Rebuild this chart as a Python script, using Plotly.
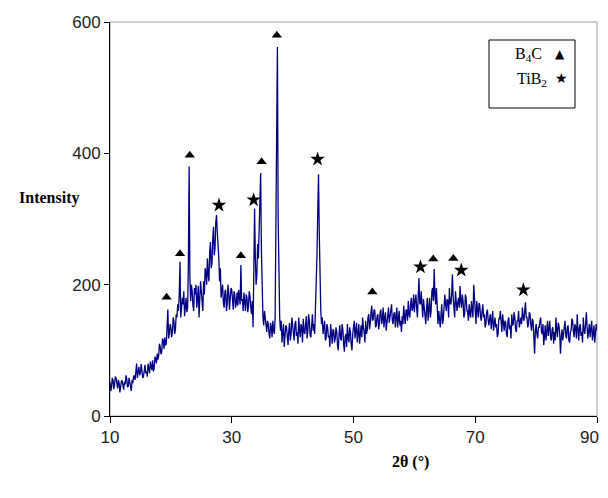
import numpy as np
import plotly.graph_objects as go

# ---- data, 2-theta scan 10..90 deg ----
two_theta_start = 10.0
two_theta_end = 90.0
# one row per degree (8 readings per degree)
intensity = [
    52, 38, 44, 58, 55, 41, 47, 60,        # 10
    58, 45, 42, 55, 50, 36, 46, 53,        # 11
    54, 47, 40, 52, 48, 62, 57, 44,        # 12
    45, 58, 52, 42, 38, 55, 50, 60,        # 13
    62, 55, 70, 80, 58, 66, 75, 62,        # 14
    66, 79, 72, 58, 60, 74, 78, 65,        # 15
    68, 60, 80, 72, 65, 83, 74, 70,        # 16
    85, 68, 72, 90, 88, 80, 95, 86,        # 17
    92, 110, 105, 94, 98, 118, 115, 102,   # 18
    120, 108, 110, 128, 162, 118, 125, 140,  # 19
    135, 120, 128, 150, 145, 125, 132, 155,  # 20
    150, 170, 160, 185, 235, 150, 165, 180,  # 21
    170, 190, 152, 165, 180, 158, 165, 230,  # 22
    380, 210, 175, 200, 190, 168, 160, 195,  # 23
    185, 200, 165, 178, 198, 150, 172, 205,  # 24
    190, 172, 160, 205, 185, 225, 220, 200,  # 25
    240, 215, 205, 250, 265, 225, 232, 270,  # 26
    288, 245, 255, 295, 306, 280, 265, 240,  # 27
    205, 225, 180, 195, 200, 172, 165, 190,  # 28
    192, 160, 170, 200, 188, 162, 175, 195,  # 29
    192, 178, 162, 190, 185, 165, 172, 188,  # 30
    168, 192, 182, 170, 230, 175, 178, 160,  # 31
    188, 172, 160, 185, 180, 158, 168, 190,  # 32
    182, 165, 155, 175, 135, 220, 316, 240,  # 33
    200, 215, 262, 240, 275, 320, 370, 250,  # 34
    160, 150, 138, 160, 150, 135, 128, 145,  # 35
    140, 125, 118, 142, 135, 120, 145, 130,  # 36
    125, 150, 305, 460, 562, 300, 175, 150,  # 37
    130, 145, 112, 128, 140, 105, 120, 138,  # 38
    135, 118, 108, 130, 142, 115, 125, 150,  # 39
    138, 120, 115, 140, 145, 122, 128, 110,  # 40
    150, 132, 120, 140, 135, 112, 148, 128,  # 41
    125, 140, 152, 118, 130, 155, 145, 122,  # 42
    120, 138, 155, 130, 140, 125, 160, 185,  # 43
    245, 310, 368, 280, 200, 160, 140, 150,  # 44
    125, 138, 145, 115, 118, 140, 135, 120,  # 45
    122, 105, 140, 125, 110, 132, 130, 112,  # 46
    118, 135, 128, 108, 100, 125, 138, 118,  # 47
    115, 140, 132, 110, 98, 120, 125, 105,   # 48
    140, 118, 112, 135, 128, 108, 100, 125,  # 49
    135, 145, 118, 130, 142, 112, 125, 140,  # 50
    110, 128, 138, 120, 150, 135, 128, 112,  # 51
    145, 125, 130, 150, 155, 132, 140, 158,  # 52
    168, 145, 148, 162, 160, 135, 138, 152,  # 53
    155, 132, 140, 158, 162, 140, 148, 165,  # 54
    135, 150, 158, 130, 145, 160, 165, 142,  # 55
    150, 162, 170, 145, 140, 155, 158, 135,  # 56
    148, 165, 135, 150, 160, 138, 145, 128,  # 57
    152, 140, 168, 150, 140, 162, 160, 145,  # 58
    175, 155, 150, 170, 180, 160, 165, 185,  # 59
    158, 175, 185, 165, 150, 180, 210, 172,  # 60
    170, 190, 160, 150, 178, 165, 150, 140,  # 61
    165, 180, 145, 160, 180, 150, 160, 190,  # 62
    195, 175, 224, 185, 170, 195, 150, 140,  # 63
    160, 145, 135, 155, 170, 140, 148, 165,  # 64
    185, 170, 160, 178, 175, 150, 195, 172,  # 65
    170, 185, 216, 180, 165, 150, 190, 175,  # 66
    160, 172, 180, 165, 198, 175, 165, 185,  # 67
    175, 150, 155, 185, 180, 160, 160, 145,  # 68
    170, 155, 150, 175, 165, 150, 200, 168,  # 69
    160, 140, 175, 162, 150, 172, 168, 150,  # 70
    145, 160, 170, 150, 155, 135, 140, 158,  # 71
    162, 145, 138, 150, 155, 132, 145, 160,  # 72
    130, 142, 150, 135, 140, 120, 125, 148,  # 73
    148, 160, 135, 128, 155, 140, 130, 145,  # 74
    142, 125, 120, 145, 150, 132, 138, 118,  # 75
    155, 138, 140, 158, 150, 132, 128, 145,  # 76
    145, 160, 135, 142, 150, 140, 165, 150,  # 77
    145, 160, 173, 150, 150, 135, 140, 158,  # 78
    155, 138, 130, 148, 145, 120, 95, 130,   # 79
    140, 125, 118, 135, 135, 145, 150, 128,  # 80
    125, 140, 108, 122, 138, 115, 130, 145,  # 81
    122, 138, 145, 120, 115, 132, 135, 110,  # 82
    128, 115, 150, 130, 120, 142, 138, 125,  # 83
    95, 120, 132, 115, 125, 140, 145, 122,   # 84
    118, 135, 138, 115, 112, 128, 130, 148,  # 85
    145, 128, 120, 140, 135, 118, 155, 132,  # 86
    115, 135, 140, 122, 128, 112, 150, 130,  # 87
    125, 140, 158, 135, 118, 130, 140, 120,  # 88
    130, 145, 115, 128, 138, 112, 122, 140,  # 89
    130,                                     # 90
]

b4c_peak_x = [19.3, 21.5, 23.1, 31.5, 34.9, 37.4, 53.1, 63.1, 66.4]
b4c_mark_y = [181, 247, 397, 244, 387, 580, 189, 239, 240]
tib2_peak_x = [27.9, 33.6, 44.1, 61.0, 67.7, 77.9]
tib2_mark_y = [321, 329, 391, 227, 222, 192]

x_ticks = [10, 30, 50, 70, 90]
x_tick_text = ["10", "30", "50", "70", "90"]
y_ticks = [0, 200, 400, 600]

two_theta = np.linspace(two_theta_start, two_theta_end, len(intensity))

fig = go.Figure()
fig.add_trace(go.Scatter(x=two_theta, y=intensity, mode="lines",
                         line=dict(color="#000080", width=1.3), showlegend=False))
fig.add_trace(go.Scatter(x=b4c_peak_x, y=b4c_mark_y, mode="markers",
                         marker=dict(symbol="triangle-up", size=9, color="black"),
                         showlegend=False))
fig.add_trace(go.Scatter(x=tib2_peak_x, y=tib2_mark_y, mode="markers",
                         marker=dict(symbol="star", size=11, color="black"),
                         showlegend=False))

tickfont = dict(family="Liberation Sans, Arial", size=17, color="#222")
# last x tick label is drawn as an annotation so that it stays inside the page
fig.update_xaxes(range=[10, 90], tickvals=x_ticks,
                 ticktext=x_tick_text[:-1] + [""],
                 showgrid=False, zeroline=False, showline=True, linecolor="black",
                 linewidth=1, ticks="outside", ticklen=6, tickcolor="black",
                 tickfont=tickfont, automargin=False)
fig.update_yaxes(range=[0, 600], tickvals=y_ticks, ticktext=[str(v) for v in y_ticks],
                 showgrid=False, zeroline=False, showline=True, linecolor="black",
                 linewidth=1, ticks="outside", ticklen=5, tickcolor="black",
                 tickfont=tickfont, automargin=False)

# page body has an 8px margin: figure placed at (8, 8)
W, H = 600, 482
L, R, T, B = 102, 11, 14, 74
pw, ph = W - L - R, H - T - B
OFF = 8


def px(xs):
    return (xs - OFF - L) / pw


def py(ys):
    return (H - B - (ys - OFF)) / ph


serif = "Liberation Serif, Times New Roman, serif"
shapes = [
    dict(type="rect", xref="paper", yref="paper", x0=0, x1=1, y0=0, y1=1,
         line=dict(color="#a0a0a0", width=1), layer="below"),
    dict(type="rect", xref="paper", yref="paper", x0=px(489), x1=px(575),
         y0=py(108), y1=py(40), line=dict(color="black", width=1),
         fillcolor="white"),
]


def ann(text, x, y, size=16, xanchor="center", family=serif, color="black"):
    return dict(text=text, xref="paper", yref="paper", x=px(x), y=py(y),
                xanchor=xanchor, yanchor="middle", showarrow=False,
                font=dict(family=family, size=size, color=color))


annotations = [
    ann("<b>Intensity</b>", 49, 198),
    ann("<b>2θ (°)</b>", 410, 462),
    ann("B<sub>4</sub>C", 513, 55, xanchor="left"),
    ann("TiB<sub>2</sub>", 515, 79, xanchor="left"),
    ann("▲", 560, 54, size=12, family="DejaVu Sans"),
    ann("★", 561, 78, size=14, family="DejaVu Sans"),
    ann(x_tick_text[-1], 601, 437, size=17, xanchor="right",
        family="Liberation Sans, Arial", color="#222"),
]

fig.update_layout(width=W, height=H, margin=dict(l=L, r=R, t=T, b=B),
                  paper_bgcolor="white", plot_bgcolor="white",
                  shapes=shapes, annotations=annotations, showlegend=False)

fig.write_html("out.html")
